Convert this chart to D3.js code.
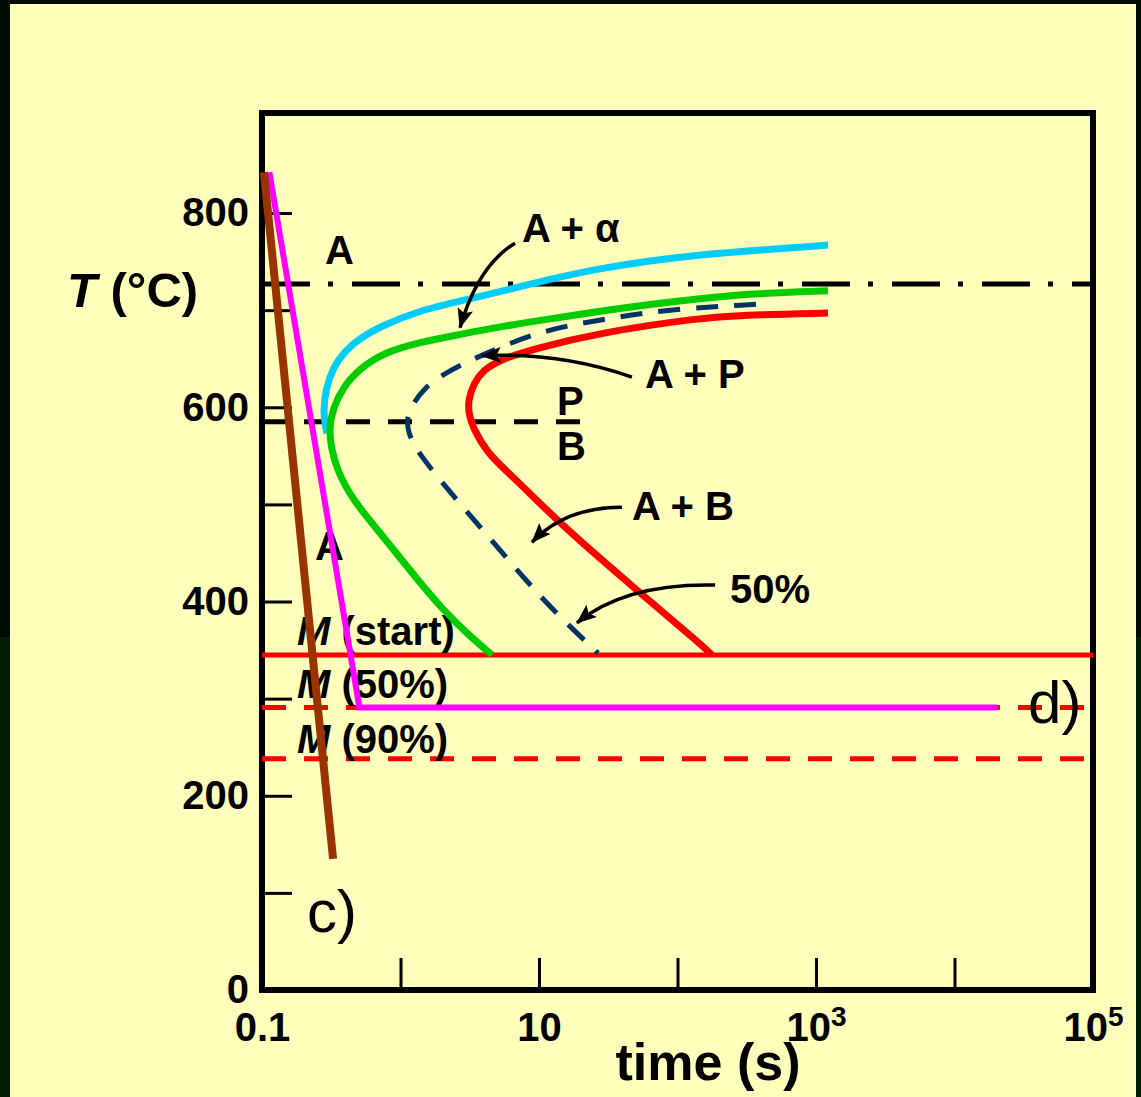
<!DOCTYPE html>
<html>
<head>
<meta charset="utf-8">
<script src="https://cdn.jsdelivr.net/npm/d3@7"></script>
<style>
  html, body { margin: 0; padding: 0; background: #000c00; }
  svg { display: block; }
</style>
</head>
<body>
<svg id="chart" width="1141" height="1097"></svg>
<script>
// ---------------- DATA (time in s, temperature in °C) ----------------
const yTicks = [0, 100, 200, 300, 400, 500, 600, 700, 800];
const yTickLabels = ["0", "", "200", "", "400", "", "600", "", "800"];
const xTicks = [0.1, 1, 10, 100, 1e3, 1e4, 1e5];
const xTickBase = ["0.1", "", "10", "", "10", "", "10"];
const xTickSup = ["", "", "", "", "3", "", "5"];

// transformation start (A + alpha)
const cyanCurve = [[0.294,573],[0.275,595],[0.290,620],[0.326,641],[0.397,658],[0.510,671],[0.711,683],[1.32,699],[3.02,711],[5.23,719],[12.0,732],[27.6,743],[63.3,751],[145,757],[394,762],[1222,767]];
// pearlite / bainite start
const greenCurve = [[1222,720],[334,717],[145,712],[63.3,706],[27.6,699],[12.0,691],[5.23,683],[2.69,675],[1.38,667],[0.748,656],[0.510,640],[0.385,621],[0.326,599],[0.305,579],[0.315,559],[0.348,535],[0.454,504],[0.711,471],[1.17,432],[2.03,391],[3.18,364],[4.58,345]];
// 50% transformed
const navyCurve = [[369,706],[84,701],[27.6,690],[11.4,680],[5.68,664],[2.92,646],[1.93,632],[1.50,620],[1.23,604],[1.11,589],[1.13,574],[1.34,553],[2.20,515],[5.68,447],[8.75,416],[13.9,385],[26.7,347]];
// transformation finish
const redCurve = [[1222,697],[283,695],[145,692],[27.6,677],[9.06,660],[5.23,649],[3.94,638],[3.39,625],[3.07,607],[3.12,592],[3.34,579],[4.21,553],[6.18,531],[9.06,508],[15.9,474],[47.7,415],[145,357],[177,345]];

// cooling paths
const magentaPath = [[0.113,842],[0.505,291],[20300,291]];
const brownPath = [[0.1033,842],[0.326,135]];

// reference temperatures
const eutectoidT = 727;
const pbT = 585, pbEndTime = 20.4;
const mStartT = 345, m50T = 291, m90T = 238;

// arrows: [start, control, tip]
const arrows = [
  [[6.71,769],[3.63,746],[2.69,682]],
  [[46.9,631],[14.2,657],[3.87,653]],
  [[39.7,497],[15.4,497],[8.9,461]],
  [[187,417],[41.8,419],[18.8,378]]
];

// region labels [text, time, T]
const labels = [
  ["A", 0.285, 748],
  ["A + α", 7.54, 770],
  ["A + P", 58.2, 620],
  ["P", 13.5, 592],
  ["B", 13.5, 546],
  ["A + B", 46.9, 484],
  ["50%", 239, 398],
  ["A", 0.241, 443]
];
const mLabels = [["(start)", 0.179, 355], ["(50%)", 0.179, 301], ["(90%)", 0.179, 244]];
const caseLabels = [["c)", 0.211, 60], ["d)", 33970, 275]];

// ---------------- DRAWING ----------------
const W = 1141, H = 1097;
const L = 262, R = 1093, T = 113, B = 990;
const FONT = "'Liberation Sans', Arial, Helvetica, sans-serif";
const svg = d3.select("#chart");

// background
svg.append("rect").attr("x",0).attr("y",0).attr("width",W).attr("height",H).attr("fill","#000c00");
svg.append("rect").attr("x",0).attr("y",637).attr("width",W).attr("height",H-637).attr("fill","#002000");
svg.append("rect").attr("x",10).attr("y",4).attr("width",1126).attr("height",H-4).attr("fill","#ffffbb");

const x = d3.scaleLog().domain([0.1, 1e5]).range([L, R]);
const y = d3.scaleLinear().domain([0, 903]).range([B, T]);

// y axis
const yAxis = svg.append("g").attr("transform", `translate(${L},0)`)
  .call(d3.axisLeft(y).tickValues(yTicks).tickSize(-30).tickPadding(13)
    .tickFormat((d,i) => yTickLabels[i]));
yAxis.select(".domain").remove();
yAxis.selectAll("line").attr("stroke","#000").attr("stroke-width",3);
yAxis.selectAll("text").attr("font-family",FONT).attr("font-size",40).attr("font-weight","bold").attr("fill","#000");

// x axis
const xAxis = svg.append("g").attr("transform", `translate(0,${B})`)
  .call(d3.axisBottom(x).tickValues(xTicks).tickSize(-32).tickPadding(23)
    .tickFormat((d,i) => xTickBase[i]));
xAxis.select(".domain").remove();
xAxis.selectAll("line").attr("stroke","#000").attr("stroke-width",3);
xAxis.selectAll("text").attr("font-family",FONT).attr("font-size",40).attr("font-weight","bold").attr("fill","#000")
  .each(function(d,i){
    if (xTickSup[i]) {
      d3.select(this).append("tspan").attr("font-size",28).attr("dy","-0.55em").text(xTickSup[i]);
    }
  });

// axis titles
svg.append("text").attr("x", 708).attr("y", 1080).attr("text-anchor","middle")
  .attr("font-family",FONT).attr("font-size",52).attr("font-weight","bold").text("time (s)");
const yt = svg.append("text").attr("x", 67).attr("y", 307)
  .attr("font-family",FONT).attr("font-size",49).attr("font-weight","bold");
yt.append("tspan").attr("font-style","italic").text("T");
yt.append("tspan").text(" (°C)");

// frame
svg.append("rect").attr("x",L).attr("y",T).attr("width",R-L).attr("height",B-T)
  .attr("fill","none").attr("stroke","#000").attr("stroke-width",6);

// reference lines
const hline = (temp, t0, t1, color, w, dash) =>
  svg.append("line").attr("x1", x(t0)).attr("x2", x(t1)).attr("y1", y(temp)).attr("y2", y(temp))
    .attr("stroke", color).attr("stroke-width", w).attr("stroke-dasharray", dash || null);
hline(eutectoidT, 0.1, 1e5, "#000", 5, "48,18,5,19");
hline(pbT, 0.1, pbEndTime, "#000", 5, "24,18");
hline(mStartT, 0.1, 1e5, "#ff0000", 5, null);
hline(m50T, 0.1, 1e5, "#ff0000", 5, "24,18");
hline(m90T, 0.1, 1e5, "#ff0000", 5, "24,18");

// labels
labels.forEach(([t, tm, temp]) => {
  svg.append("text").attr("x", x(tm)).attr("y", y(temp))
    .attr("font-family",FONT).attr("font-size",40).attr("font-weight","bold").attr("fill","#000").text(t);
});
mLabels.forEach(([t, tm, temp]) => {
  const tx = svg.append("text").attr("x", x(tm)).attr("y", y(temp))
    .attr("font-family",FONT).attr("font-size",40).attr("font-weight","bold").attr("fill","#000");
  tx.append("tspan").attr("font-style","italic").text("M");
  tx.append("tspan").text(" " + t);
});
caseLabels.forEach(([t, tm, temp]) => {
  svg.append("text").attr("x", x(tm)).attr("y", y(temp))
    .attr("font-family",FONT).attr("font-size",60).attr("fill","#000").text(t);
});

// transformation curves
const curve = d3.line().x(d => x(d[0])).y(d => y(d[1])).curve(d3.curveBasis);
const drawCurve = (data, color, w, dash) =>
  svg.append("path").datum(data).attr("d", curve).attr("fill","none")
    .attr("stroke", color).attr("stroke-width", w).attr("stroke-dasharray", dash || null)
    .attr("stroke-linecap","butt").attr("stroke-linejoin","round");
drawCurve(cyanCurve, "#00ccff", 7);
drawCurve(greenCurve, "#00cc00", 7);
drawCurve(navyCurve, "#003366", 5, "22,16");
drawCurve(redCurve, "#ff0000", 7);

// arrows
const defs = svg.append("defs");
defs.append("marker").attr("id","ah").attr("viewBox","0 0 20 16").attr("refX",19).attr("refY",8)
  .attr("markerWidth",20).attr("markerHeight",16).attr("markerUnits","userSpaceOnUse").attr("orient","auto")
  .append("path").attr("d","M0,0 L20,8 L0,16 L4,8 Z").attr("fill","#000");
arrows.forEach(([p0, c, p1]) => {
  const path = d3.path();
  path.moveTo(x(p0[0]), y(p0[1]));
  path.quadraticCurveTo(x(c[0]), y(c[1]), x(p1[0]), y(p1[1]));
  svg.append("path").attr("d", path.toString()).attr("fill","none").attr("stroke","#000")
    .attr("stroke-width",3.5).attr("marker-end","url(#ah)");
});

// cooling paths
const straight = d3.line().x(d => x(d[0])).y(d => y(d[1]));
svg.append("path").datum(magentaPath).attr("d", straight).attr("fill","none")
  .attr("stroke","#ff00ff").attr("stroke-width",6).attr("stroke-linejoin","miter");
svg.append("path").datum(brownPath).attr("d", straight).attr("fill","none")
  .attr("stroke","#993300").attr("stroke-width",8);
</script>
</body>
</html>
